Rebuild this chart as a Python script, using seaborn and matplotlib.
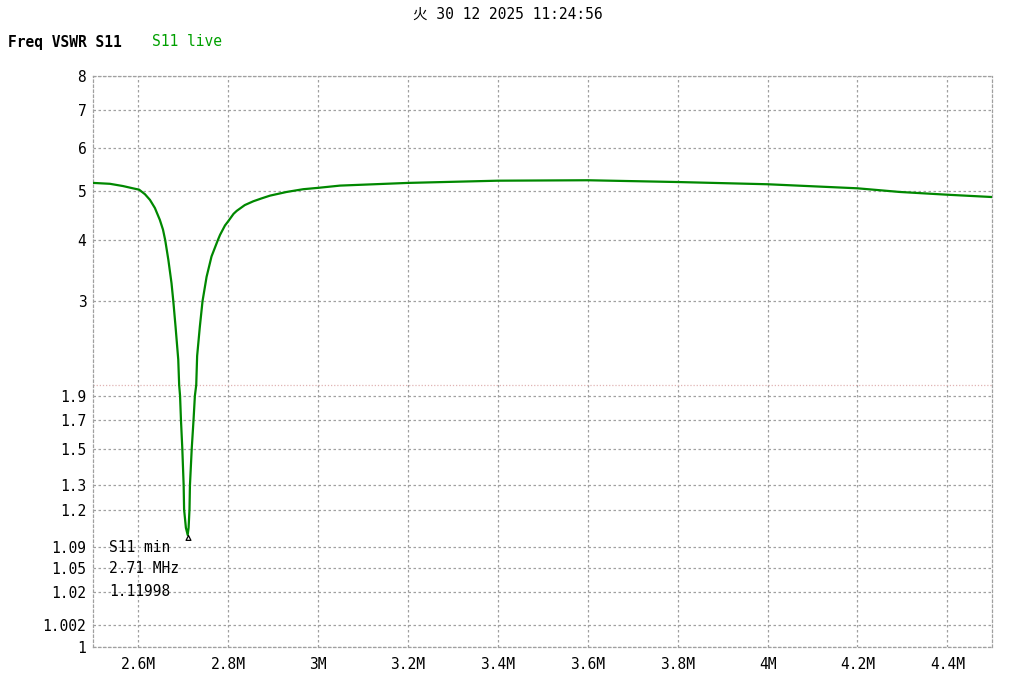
import matplotlib
matplotlib.use("Agg")
import matplotlib.pyplot as plt
import seaborn as sns
import numpy as np
import pandas as pd

# sweep (MHz, VSWR)
freq_mhz = [2.500, 2.537, 2.566, 2.588, 2.602, 2.615, 2.626, 2.637, 2.648,
            2.655, 2.660, 2.667, 2.674, 2.678, 2.683, 2.689, 2.691, 2.693,
            2.695, 2.698, 2.701, 2.702, 2.706, 2.710, 2.712, 2.714, 2.715,
            2.719, 2.723, 2.726, 2.729, 2.731, 2.737, 2.743, 2.752, 2.763,
            2.777, 2.782, 2.793, 2.800, 2.812, 2.819, 2.837, 2.856, 2.874,
            2.893, 2.930, 2.967, 3.000, 3.049, 3.200, 3.400, 3.600, 3.800,
            4.000, 4.200, 4.294, 4.400, 4.500]
vswr = [5.17, 5.15, 5.10, 5.05, 5.02, 4.92, 4.80, 4.63, 4.39,
        4.20, 4.00, 3.65, 3.27, 3.00, 2.65, 2.26, 2.00, 1.90,
        1.70, 1.50, 1.30, 1.20, 1.14, 1.11998, 1.14, 1.20, 1.30,
        1.50, 1.70, 1.90, 2.00, 2.30, 2.65, 3.00, 3.37, 3.71,
        4.00, 4.10, 4.28, 4.36, 4.51, 4.57, 4.69, 4.77, 4.83,
        4.89, 4.97, 5.03, 5.06, 5.11, 5.17, 5.22, 5.23, 5.19,
        5.14, 5.05, 4.97, 4.91, 4.86]

min_freq = 2.71
min_vswr = 1.11998

y_ticks = [1, 1.002, 1.02, 1.05, 1.09, 1.2, 1.3, 1.5, 1.7, 1.9, 3, 4, 5, 6, 7, 8]
y_tick_labels = ["1", "1.002", "1.02", "1.05", "1.09", "1.2", "1.3", "1.5",
                 "1.7", "1.9", "3", "4", "5", "6", "7", "8"]
x_ticks = [2.6, 2.8, 3.0, 3.2, 3.4, 3.6, 3.8, 4.0, 4.2, 4.4]

df = pd.DataFrame({"Freq": freq_mhz, "VSWR": vswr})

sns.set_style("white")
plt.rcParams["font.family"] = ["DejaVu Sans Mono", "Noto Sans CJK JP"]
plt.rcParams["text.color"] = "black"

grid_col = "#a0a0a0"
dots = (0, (2, 2))

fig = plt.figure(figsize=(10.15, 6.97), dpi=100)
ax = fig.add_axes([93.3 / 1015, 1 - 647.3 / 697, 899 / 1015, 571.3 / 697])


def fwd(v):
    return np.power(np.clip(np.asarray(v, dtype=float) - 1, 0, None), 0.4)


def inv(t):
    return 1 + np.power(np.clip(np.asarray(t, dtype=float), 0, None), 2.5)


ax.set_yscale("function", functions=(fwd, inv))

# VSWR 2 reference line
ax.axhline(2, color="#e0b4b4", lw=0.9, ls=(0, (1, 1.5)), zorder=1)

sns.lineplot(data=df, x="Freq", y="VSWR", color="#008800", lw=1.6, ax=ax, zorder=3)

# minimum marker (tip of the triangle on the point)
tri = [(0, 0), (-0.5, -1), (0.5, -1), (0, 0)]
ax.plot([min_freq], [min_vswr], marker=tri, ms=7, mfc="white", mec="black",
        mew=0.9, ls="none", zorder=4)

ax.set_xlim(2.5, 4.5)
ax.set_ylim(1, 8)
ax.set_yticks(y_ticks)
ax.set_yticklabels(y_tick_labels)
ax.set_xticks(x_ticks)
ax.set_xticklabels([f"{v:g}M" for v in x_ticks])
ax.minorticks_off()
ax.tick_params(axis="both", length=0, labelsize=10.5, colors="black")
ax.tick_params(axis="y", pad=5)
ax.tick_params(axis="x", pad=7)
ax.set_xlabel("")
ax.set_ylabel("")
ax.grid(True, color=grid_col, lw=0.9, ls=dots)
for sp in ax.spines.values():
    sp.set_color(grid_col)
    sp.set_linestyle(dots)
    sp.set_linewidth(0.9)

# marker readout
ax.text(2.5356, 1.09, "S11 min", fontsize=10.5, va="center", ha="left")
ax.text(2.5356, 1.05, f"{min_freq:.2f} MHz", fontsize=10.5, va="center", ha="left")
ax.text(2.5356, 1.0205, f"{min_vswr:.5f}", fontsize=10.5, va="center", ha="left")

fig.text(0.5, 1 - 14 / 697, "火 30 12 2025 11:24:56", fontsize=10.5,
         ha="center", va="center")
fig.text(8 / 1015, 1 - 42 / 697, "Freq VSWR S11", fontsize=10.5,
         fontweight="bold", ha="left", va="center")
fig.text(152 / 1015, 1 - 42 / 697, "S11 live", fontsize=10.5, color="#00a000",
         ha="left", va="center")

plt.savefig("out.png", dpi=100)
